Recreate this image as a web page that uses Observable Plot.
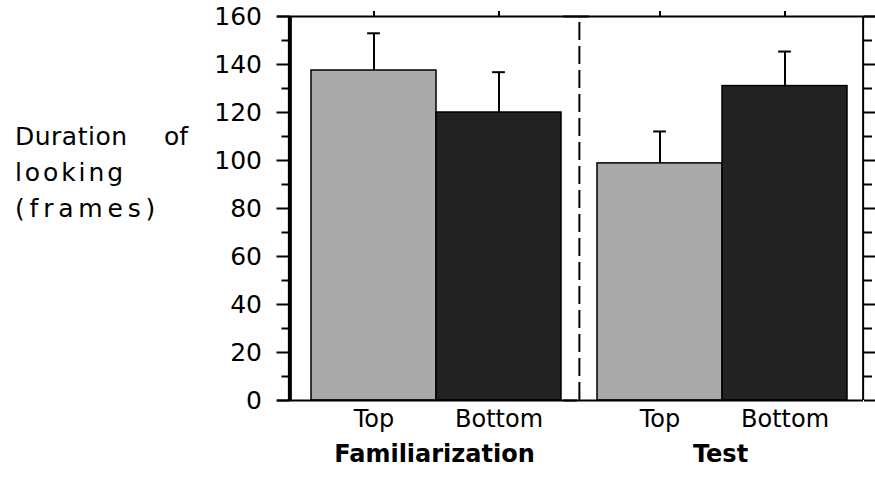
<!DOCTYPE html>
<html><head><meta charset="utf-8">
<script src="https://cdn.jsdelivr.net/npm/d3@7"></script>
<script src="https://cdn.jsdelivr.net/npm/@observablehq/plot@0.6"></script>
<style>
body{margin:0;background:#fff}
#wrap{position:relative;width:875px;height:479px;font-family:"DejaVu Sans",sans-serif;}
#wrap svg{position:absolute;left:0;top:0}
.yl{position:absolute;left:15px;font-size:25px;line-height:36px;height:36px;color:#000;white-space:nowrap}
</style></head><body><div id="wrap"></div>
<script>
// ---- data ----
const groups = ["Familiarization", "Test"];
const conditions = ["Top", "Bottom"];
const familiarizationMeans = [137.5, 120];
const testMeans = [98.8, 131];
const familiarizationErrors = [15.5, 16.8];
const testErrors = [13.3, 14.4];
const majorTicks = [0, 20, 40, 60, 80, 100, 120, 140, 160];
const minorTicks = [10, 30, 50, 70, 90, 110, 130, 150];
const yLabelWords = ["Duration", "of", "looking", "(frames)"];

const meansByGroup = [familiarizationMeans, testMeans];
const errorsByGroup = [familiarizationErrors, testErrors];
const data = groups.flatMap((g, gi) => conditions.map((c, ci) => ({
  group: g, condition: c, mean: meansByGroup[gi][ci], err: errorsByGroup[gi][ci]
})));

// ---- layout ----
const W = 875, H = 479, ML = 291, MR = 12, MT = 16, MB = 79;
const facetW = (W - ML - MR) / 2;
const padL = 20, padR = 15.5;
const bw = (facetW - padL - padR) / 2;
const xPadOuter = (padL + padR) / 2 / bw;
const xAlign = padL / (padL + padR);
const topCenter = padL + bw / 2;
const bottomCenter = padL + bw * 1.5;
const capW = 13;

const plot = Plot.plot({
  width: W, height: H,
  marginLeft: ML, marginRight: MR, marginTop: MT, marginBottom: MB,
  style: {fontFamily: "DejaVu Sans", color: "#000", background: "transparent", overflow: "visible"},
  fx: {domain: groups, padding: 0, label: null},
  x: {domain: conditions, paddingInner: 0, paddingOuter: xPadOuter, align: xAlign, label: null},
  y: {domain: [0, 160], label: null},
  color: {domain: conditions, range: ["#aaaaaa", "#222222"]},
  marks: [
    Plot.barY(data, {fx: "group", x: "condition", y: "mean", fill: "condition", stroke: "#000", strokeWidth: 1.5}),
    Plot.ruleX(data, {fx: "group", x: "condition", y1: "mean", y2: d => d.mean + d.err, stroke: "#000", strokeWidth: 2}),
    Plot.tickY(data, {fx: "group", x: "condition", y: d => d.mean + d.err, stroke: "#000", strokeWidth: 2,
      insetLeft: (bw - capW) / 2, insetRight: (bw - capW) / 2}),
    // dashed separator between the two phases
    Plot.ruleX([groups[1]], {fx: d => d, x: () => conditions[0], y1: 0, y2: 157.5, dx: 2 - topCenter,
      stroke: "#000", strokeWidth: 2, strokeDasharray: "18,6"}),
    // frame lines
    Plot.ruleX([groups[0]], {fx: d => d, x: () => conditions[0], y1: 0, y2: 160, dx: -1.5 - topCenter, stroke: "#000", strokeWidth: 4}),
    Plot.ruleX([groups[1]], {fx: d => d, x: () => conditions[1], y1: 0, y2: 160, dx: facetW - bottomCenter, stroke: "#000", strokeWidth: 2}),
    Plot.ruleY([160], {insetLeft: -14, insetRight: -12, stroke: "#000", strokeWidth: 2}),
    Plot.ruleY([0], {insetLeft: -14, stroke: "#000", strokeWidth: 2}),
    // axes
    Plot.axisY({anchor: "left", ticks: majorTicks, tickSize: 13, tickPadding: 15, fontSize: 25, strokeWidth: 2, dx: -1.5, label: null}),
    Plot.axisY({anchor: "left", ticks: minorTicks, tickSize: 8, strokeWidth: 2, dx: -1.5, fill: "none"}),
    Plot.axisY({anchor: "right", ticks: majorTicks, tickSize: 11, strokeWidth: 2, fill: "none"}),
    Plot.axisY({anchor: "right", ticks: minorTicks, tickSize: 8, strokeWidth: 2, fill: "none"}),
    Plot.axisX({anchor: "top", tickSize: 6, strokeWidth: 2, fill: "none"}),
    Plot.axisX({anchor: "bottom", tickSize: 0, tickPadding: 9, fontSize: 24, label: null}),
    Plot.axisFx({anchor: "bottom", tickSize: 0, tickPadding: 44, fontSize: 24, fontWeight: "bold", label: null})
  ]
});

const wrap = document.getElementById("wrap");
wrap.appendChild(plot);

// y-axis title (three lines, the first justified)
const fs = 25;
const baselines = [146, 182, 218];
const ascentOffset = (36 - fs * 1.164) / 2 + fs * 0.928;
const line1 = document.createElement("div");
line1.className = "yl";
line1.style.top = (baselines[0] - ascentOffset) + "px";
line1.style.width = "173px";
line1.style.display = "flex";
line1.style.justifyContent = "space-between";
const s1 = document.createElement("span"); s1.textContent = yLabelWords[0]; s1.style.letterSpacing = "0.5px";
const s2 = document.createElement("span"); s2.textContent = yLabelWords[1];
line1.append(s1, s2);
wrap.appendChild(line1);
const spacing = ["2.9px", "4.8px"];
[yLabelWords[2], yLabelWords[3]].forEach((w, i) => {
  const d = document.createElement("div");
  d.className = "yl";
  d.style.top = (baselines[i + 1] - ascentOffset) + "px";
  d.style.letterSpacing = spacing[i];
  d.textContent = w;
  wrap.appendChild(d);
});
</script></body></html>
